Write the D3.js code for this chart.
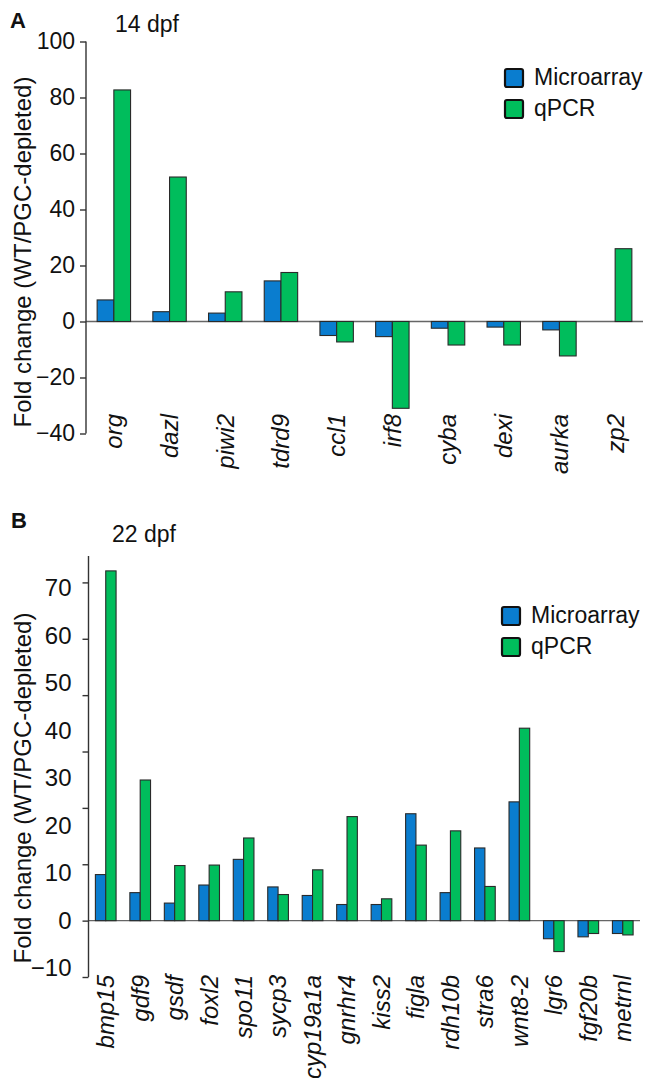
<!DOCTYPE html>
<html>
<head>
<meta charset="utf-8">
<script src="https://cdn.jsdelivr.net/npm/d3@7"></script>
<style>
  body { margin: 0; background: #fff; }
  text { font-family: "Liberation Sans", Arial, sans-serif; fill: #111; }
</style>
</head>
<body>
<div id="page"></div>
<script>

// panel A, 14 dpf
var genesA = ['org', 'dazl', 'piwi2', 'tdrd9', 'ccl1', 'irf8', 'cyba', 'dexi', 'aurka', 'zp2'];
var microA = [7.7, 3.5, 3.0, 14.5, -5.0, -5.4, -2.4, -2.0, -3.0, null];
var qpcrA  = [82.7, 51.6, 10.6, 17.5, -7.3, -31.0, -8.4, -8.4, -12.3, 26.0];
var ticksA = [-40, -20, 0, 20, 40, 60, 80, 100];

// panel B, 22 dpf
var genesB = ['bmp15', 'gdf9', 'gsdf', 'foxl2', 'spo11', 'sycp3', 'cyp19a1a', 'gnrhr4',
              'kiss2', 'figla', 'rdh10b', 'stra6', 'wnt8-2', 'lgr6', 'fgf20b', 'metrnl'];
var microB = [9.7, 5.9, 3.7, 7.5, 12.9, 7.1, 5.3, 3.4, 3.4, 22.5, 5.9, 15.3, 25.0, -3.8, -3.4, -2.7];
var qpcrB  = [73.6, 29.6, 11.6, 11.7, 17.4, 5.5, 10.7, 21.9, 4.6, 15.9, 18.9, 7.2, 40.5, -6.5, -2.7, -3.0];
var ticksB = [-10, 0, 10, 20, 30, 40, 50, 60, 70];
// the printed tick marks of panel B do not sit under their labels
var marksB = [-10, 0, 10, 20, 30, 40, 50, 60];

var seriesNames = ['Microarray', 'qPCR'],
    colors = {'Microarray': '#0a7dcf', 'qPCR': '#00bd5c'};

var svg = d3.select("#page").append("svg")
    .attr("width", 649)
    .attr("height", 1078);

var drawPanel = function(cfg) {
  var g = svg.append("g");

  var x = d3.scaleBand()
      .domain(cfg.genes)
      .range([cfg.left, cfg.right])
      .paddingInner(0.4)
      .paddingOuter(0.2);
  var xs = d3.scaleBand()
      .domain(seriesNames)
      .range([0, x.bandwidth()]);
  var y = d3.scaleLinear().domain(cfg.domain).range(cfg.range);
  var yMarks = cfg.marks ? d3.scaleLinear().domain(cfg.marksDomain).range(cfg.marksRange) : y;

  var rows = [];
  cfg.genes.forEach(function(gene, i) {
    rows.push({gene: gene, series: 'Microarray', v: cfg.micro[i]});
    rows.push({gene: gene, series: 'qPCR', v: cfg.qpcr[i]});
  });

  // zero line
  g.append("line")
      .attr("x1", cfg.left).attr("x2", cfg.right)
      .attr("y1", y(0)).attr("y2", y(0))
      .attr("stroke", "#666")
      .attr("stroke-width", 1.3);

  g.selectAll("rect.bar")
      .data(rows.filter(function(d) { return d.v !== null; }))
    .enter().append("rect")
      .attr("class", "bar")
      .attr("x", function(d) { return x(d.gene) + xs(d.series); })
      .attr("y", function(d) { return Math.min(y(d.v), y(0)); })
      .attr("width", xs.bandwidth())
      .attr("height", function(d) { return Math.abs(y(d.v) - y(0)); })
      .attr("fill", function(d) { return colors[d.series]; })
      .attr("stroke", "#2a2a2a")
      .attr("stroke-width", 1.1);

  // axis line
  g.append("line")
      .attr("x1", cfg.left).attr("x2", cfg.left)
      .attr("y1", cfg.axisTop).attr("y2", yMarks(cfg.domain[0]))
      .attr("stroke", "#333")
      .attr("stroke-width", 1.4);

  // tick marks
  var markAxis = g.append("g")
      .attr("transform", "translate(" + cfg.left + ",0)")
      .call(d3.axisLeft(yMarks).tickValues(cfg.marks || cfg.ticks).tickSize(6).tickFormat(""));
  markAxis.select(".domain").remove();
  markAxis.selectAll("line").attr("stroke", "#333").attr("stroke-width", 1.4);

  // tick labels
  var labelAxis = g.append("g")
      .attr("transform", "translate(" + cfg.left + ",0)")
      .call(d3.axisLeft(y).tickValues(cfg.ticks).tickSize(0).tickPadding(cfg.tickPad));
  labelAxis.select(".domain").remove();
  labelAxis.selectAll("text")
      .style("font-family", '"Liberation Sans", Arial, sans-serif')
      .style("font-size", cfg.tickFont + "px")
      .attr("fill", "#111");

  // gene names
  g.selectAll("text.gene")
      .data(cfg.genes)
    .enter().append("text")
      .attr("class", "gene")
      .attr("transform", function(d) {
        return "translate(" + (x(d) + x.bandwidth() / 2) + "," + cfg.labelY + ") rotate(-90)";
      })
      .attr("text-anchor", "end")
      .attr("dy", "0.35em")
      .style("font-size", "24px")
      .style("font-style", "italic")
      .text(function(d) { return d; });

  // axis title
  g.append("text")
      .attr("transform", "translate(31," + cfg.titleY + ") rotate(-90)")
      .attr("text-anchor", "middle")
      .style("font-size", "24px")
      .text("Fold change (WT/PGC-depleted)");

  g.append("text")
      .attr("x", cfg.letterX).attr("y", cfg.letterY)
      .style("font-size", "22px")
      .style("font-weight", "bold")
      .text(cfg.letter);

  g.append("text")
      .attr("x", cfg.stageX).attr("y", cfg.stageY)
      .style("font-size", "23px")
      .text(cfg.stage);

  // legend
  var leg = g.selectAll("g.legend")
      .data(seriesNames)
    .enter().append("g")
      .attr("class", "legend")
      .attr("transform", function(d, i) {
        return "translate(" + cfg.legendX + "," + (cfg.legendY + i * cfg.legendStep) + ")";
      });
  leg.append("rect")
      .attr("width", 18).attr("height", 18)
      .attr("rx", 2)
      .attr("fill", function(d) { return colors[d]; })
      .attr("stroke", "#111")
      .attr("stroke-width", 2.2);
  leg.append("text")
      .attr("x", 29).attr("y", 16)
      .style("font-size", "23px")
      .text(function(d) { return d; });
};

var init = function() {
  drawPanel({
    genes: genesA, micro: microA, qpcr: qpcrA, ticks: ticksA,
    left: 86, right: 643,
    domain: [-40, 100], range: [433.5, 41.5],
    axisTop: 41.5, tickPad: 11, tickFont: 23,
    labelY: 414, titleY: 252,
    letter: 'A', letterX: 10, letterY: 28,
    stage: '14 dpf', stageX: 115, stageY: 32,
    legendX: 505, legendY: 69, legendStep: 31
  });
  drawPanel({
    genes: genesB, micro: microB, qpcr: qpcrB, ticks: ticksB,
    marks: marksB, marksDomain: [-10, 60], marksRange: [977, 582.4],
    left: 88.5, right: 640,
    domain: [-10, 70], range: [968.2, 588],
    axisTop: 556, tickPad: 17, tickFont: 24,
    labelY: 975, titleY: 788,
    letter: 'B', letterX: 11, letterY: 528,
    stage: '22 dpf', stageX: 112, stageY: 542,
    legendX: 502, legendY: 607, legendStep: 31
  });
};

init();
</script>
</body>
</html>
